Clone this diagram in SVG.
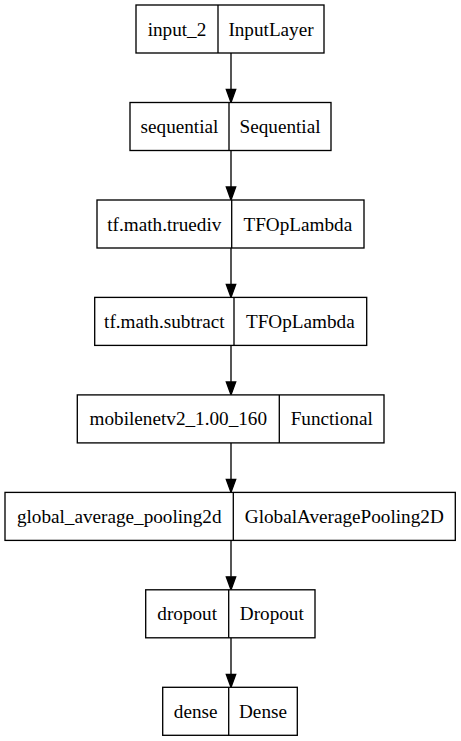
<svg xmlns="http://www.w3.org/2000/svg" width="461" height="741" viewBox="0 0 461 741">
<defs>
<style>
.box{fill:#fff;stroke:#000;stroke-width:1.33}
.div{stroke:#000;stroke-width:1.33}
text{font-family:"Liberation Serif","Times New Roman",serif;font-size:19.2px;fill:#000;text-anchor:middle}
.edge{stroke:#000;stroke-width:1.33;fill:none}
.head{fill:#000;stroke:#000;stroke-width:1.33}
</style>
</defs>
<rect width="461" height="741" fill="#fff"/>
<g id="connectors">
<path class="edge" d="M231 53V89.5"/><polygon class="head" points="226.3,89.5 235.7,89.5 231,102.5"/>
<path class="edge" d="M231 150.5V187"/><polygon class="head" points="226.3,187 235.7,187 231,200"/>
<path class="edge" d="M231 248V284.4"/><polygon class="head" points="226.3,284.4 235.7,284.4 231,297.4"/>
<path class="edge" d="M231 345.4V381.9"/><polygon class="head" points="226.3,381.9 235.7,381.9 231,394.9"/>
<path class="edge" d="M231 442.9V479.4"/><polygon class="head" points="226.3,479.4 235.7,479.4 231,492.4"/>
<path class="edge" d="M231 540.4V576.8"/><polygon class="head" points="226.3,576.8 235.7,576.8 231,589.8"/>
<path class="edge" d="M231 637.8V674.3"/><polygon class="head" points="226.3,674.3 235.7,674.3 231,687.3"/>
</g>
<g id="input_2">
<rect class="box" x="136" y="5" width="188" height="48"/><line class="div" x1="218" y1="5" x2="218" y2="53"/>
<text x="177" y="35.5">input_2</text><text x="271" y="35.5">InputLayer</text>
</g>
<g id="sequential">
<rect class="box" x="130" y="102.5" width="201" height="48"/><line class="div" x1="229" y1="102.5" x2="229" y2="150.5"/>
<text x="179.5" y="133">sequential</text><text x="280" y="133">Sequential</text>
</g>
<g id="truediv">
<rect class="box" x="97" y="200" width="267" height="48"/><line class="div" x1="231.7" y1="200" x2="231.7" y2="248"/>
<text x="164.3" y="230.5">tf.math.truediv</text><text x="297.8" y="230.5">TFOpLambda</text>
</g>
<g id="subtract">
<rect class="box" x="94.7" y="297.4" width="272" height="48"/><line class="div" x1="234" y1="297.4" x2="234" y2="345.4"/>
<text x="164.3" y="327.9">tf.math.subtract</text><text x="300.3" y="327.9">TFOpLambda</text>
</g>
<g id="mobilenetv2">
<rect class="box" x="77.3" y="394.9" width="306.7" height="48"/><line class="div" x1="279.3" y1="394.9" x2="279.3" y2="442.9"/>
<text x="178.3" y="425.4">mobilenetv2_1.00_160</text><text x="331.7" y="425.4">Functional</text>
</g>
<g id="global_average_pooling2d">
<rect class="box" x="5" y="492.4" width="450.3" height="48"/><line class="div" x1="233.3" y1="492.4" x2="233.3" y2="540.4"/>
<text x="119.2" y="522.9">global_average_pooling2d</text><text x="344.3" y="522.9">GlobalAveragePooling2D</text>
</g>
<g id="dropout">
<rect class="box" x="145.7" y="589.8" width="169.3" height="48"/><line class="div" x1="228.7" y1="589.8" x2="228.7" y2="637.8"/>
<text x="187.2" y="620.3">dropout</text><text x="271.8" y="620.3">Dropout</text>
</g>
<g id="dense">
<rect class="box" x="162.7" y="687.3" width="134.6" height="48"/><line class="div" x1="228.7" y1="687.3" x2="228.7" y2="735.3"/>
<text x="195.7" y="717.8">dense</text><text x="263" y="717.8">Dense</text>
</g>
</svg>
